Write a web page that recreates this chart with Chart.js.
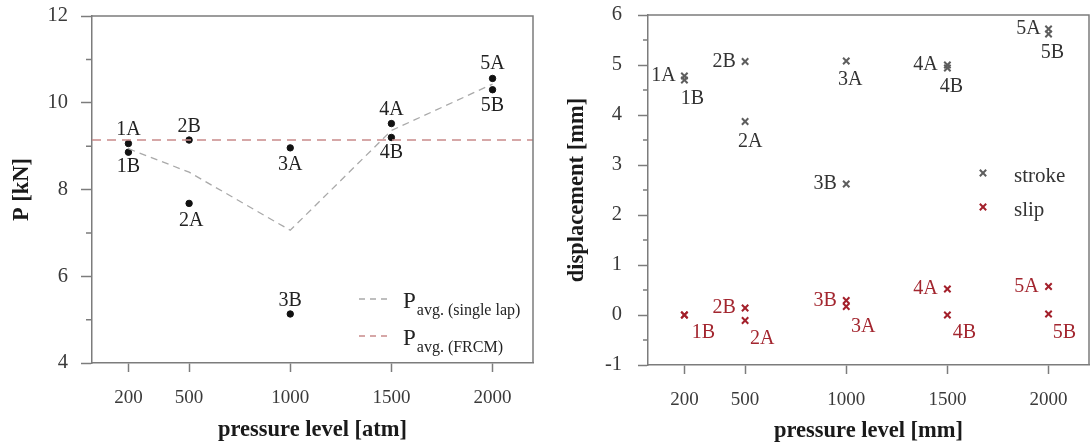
<!DOCTYPE html>
<html>
<head>
<meta charset="utf-8">
<script src="https://cdn.jsdelivr.net/npm/chart.js@4.4.1/dist/chart.umd.min.js"></script>
<style>
  html, body { margin: 0; padding: 0; background: #fff; }
  #wrap { position: relative; width: 1090px; height: 445px; }
  canvas { position: absolute; top: 0; }
</style>
</head>
<body>
<div id="wrap">
  <canvas id="loadChart" width="545" height="445" style="left:0"></canvas>
  <canvas id="dispChart" width="545" height="445" style="left:545px"></canvas>
</div>
<script>
// test series: pressure levels and specimens
const pressureLevels = [200, 500, 1000, 1500, 2000];
const specimensA = ['1A', '2A', '3A', '4A', '5A'];
const specimensB = ['1B', '2B', '3B', '4B', '5B'];

// peak load [kN]
const loadA = [9.06, 7.68, 8.96, 9.52, 10.56];
const loadB = [8.86, 9.14, 5.13, 9.20, 10.30];
const loadAvgSingleLap = [8.94, 8.40, 7.06, 9.36, 10.43];
const loadAvgFRCM = 9.14;

// displacement [mm]
const strokeA = [4.78, 3.87, 5.08, 5.00, 5.72];
const strokeB = [4.70, 5.07, 2.62, 4.94, 5.62];
const slipA = [0.00, -0.11, 0.17, 0.52, 0.57];
const slipB = [0.00, 0.14, 0.29, 0.00, 0.02];

// axis ranges and ticks
const pressureMin = 20, pressureMax = 2200;
const loadMinorTicks = [5, 7, 9, 11];
const dispMinorTicks = [-0.5, 0.5, 1.5, 2.5, 3.5, 4.5, 5.5];

const SERIF = '"Liberation Serif", "Times New Roman", serif';
const AXIS = '#7c7c7c';

const points = (vals, names) => pressureLevels.map((x, i) => ({ x, y: vals[i], name: names ? names[i] : '' }));

// box around the plot + short minor ticks on the y axis
const frameTicks = {
  id: 'frameTicks',
  afterDraw(chart, args, opts) {
    const { ctx, chartArea: a, scales: { y } } = chart;
    ctx.save();
    ctx.strokeStyle = AXIS;
    ctx.lineWidth = 1.5;
    ctx.beginPath();
    ctx.moveTo(a.left, a.top); ctx.lineTo(a.right, a.top); ctx.lineTo(a.right, a.bottom);
    opts.minor.forEach(v => {
      const py = y.getPixelForValue(v);
      ctx.moveTo(a.left - opts.len, py);
      ctx.lineTo(a.left, py);
    });
    ctx.stroke();
    ctx.restore();
  }
};

// specimen names next to each point
const pointTags = {
  id: 'pointTags',
  afterDatasetsDraw(chart) {
    const { ctx } = chart;
    ctx.save();
    ctx.font = '20px ' + SERIF;
    ctx.textAlign = 'center';
    ctx.textBaseline = 'middle';
    chart.data.datasets.forEach((ds, di) => {
      if (!ds.tagOffsets) return;
      ctx.fillStyle = ds.tagColor;
      chart.getDatasetMeta(di).data.forEach((pt, i) => {
        const name = ds.data[i].name;
        const off = ds.tagOffsets[name];
        if (!off) return;
        ctx.fillText(name, pt.x + off[0], pt.y + off[1]);
      });
    });
    ctx.restore();
  }
};

// legend with subscripted P
const avgLegend = {
  id: 'avgLegend',
  afterDraw(chart, args, opts) {
    const { ctx, chartArea: a } = chart;
    ctx.save();
    opts.items.forEach((it, i) => {
      const base = a.bottom - 55 + i * 37;
      ctx.strokeStyle = it.color;
      ctx.lineWidth = 1.3;
      ctx.setLineDash([6, 5]);
      ctx.beginPath();
      ctx.moveTo(a.right - 174, base - 9);
      ctx.lineTo(a.right - 145, base - 9);
      ctx.stroke();
      ctx.setLineDash([]);
      ctx.fillStyle = '#222';
      ctx.textAlign = 'left';
      ctx.textBaseline = 'alphabetic';
      ctx.font = '23px ' + SERIF;
      ctx.fillText('P', a.right - 130, base);
      const w = ctx.measureText('P').width;
      ctx.font = '16px ' + SERIF;
      ctx.fillText(it.sub, a.right - 130 + w + 1, base + 7);
    });
    ctx.restore();
  }
};

const markLegend = {
  id: 'markLegend',
  afterDraw(chart, args, opts) {
    const { ctx, chartArea: a } = chart;
    ctx.save();
    opts.items.forEach((it, i) => {
      const y = a.top + 158 + i * 34;
      ctx.strokeStyle = it.color;
      ctx.lineWidth = 2;
      Chart.helpers.drawPoint(ctx, { pointStyle: 'crossRot', radius: 4.5, borderWidth: 2 }, a.right - 106, y);
      ctx.fillStyle = '#333';
      ctx.font = '21px ' + SERIF;
      ctx.textAlign = 'left';
      ctx.textBaseline = 'alphabetic';
      ctx.fillText(it.text, a.right - 75, y + 9);
    });
    ctx.restore();
  }
};

function xScale(titleText, titlePad) {
  return {
    type: 'linear',
    min: pressureMin,
    max: pressureMax,
    afterBuildTicks: s => { s.ticks = pressureLevels.map(v => ({ value: v })); },
    afterFit: s => { s.height = titlePad.h; s.paddingLeft = 0; s.paddingRight = 0; },
    grid: { drawOnChartArea: false, tickLength: 9, tickColor: AXIS, tickWidth: 1.5 },
    border: { color: AXIS, width: 1.5 },
    ticks: { padding: 15, color: '#3a3a3a', font: { family: SERIF, size: 19 }, callback: v => String(v) },
    title: { display: true, text: titleText, color: '#1a1a1a', padding: { top: 0, bottom: titlePad.b },
             font: { family: SERIF, size: 22.5, weight: 'bold' } }
  };
}

function yScale(titleText, min, max, step, tl, pad, width, titleTop) {
  return {
    min, max,
    afterFit: s => { s.width = width; s.paddingTop = 0; s.paddingBottom = 0; },
    grid: { drawOnChartArea: false, tickLength: tl, tickColor: AXIS, tickWidth: 1.5 },
    border: { color: AXIS, width: 1.5 },
    ticks: { stepSize: step, padding: pad, color: '#3a3a3a', font: { family: SERIF, size: 20.5 } },
    title: { display: true, text: titleText, color: '#1a1a1a', padding: { top: titleTop, bottom: 0 },
             font: { family: SERIF, size: 22.5, weight: 'bold' } }
  };
}

new Chart(document.getElementById('loadChart'), {
  type: 'scatter',
  data: {
    datasets: [
      {
        data: [{ x: pressureMin, y: loadAvgFRCM }, { x: pressureMax, y: loadAvgFRCM }],
        showLine: true, borderColor: '#c98b8b', borderWidth: 1.6, borderDash: [9, 6], pointRadius: 0
      },
      {
        data: points(loadAvgSingleLap),
        showLine: true, borderColor: '#a9a9a9', borderWidth: 1.3, borderDash: [7, 5], pointRadius: 0
      },
      {
        data: points(loadA, specimensA),
        pointRadius: 3.2, backgroundColor: '#111', borderColor: '#111',
        tagColor: '#222',
        tagOffsets: { '1A': [0, -14], '2A': [2, 17], '3A': [0, 17], '4A': [0, -14], '5A': [0, -15] }
      },
      {
        data: points(loadB, specimensB),
        pointRadius: 3.2, backgroundColor: '#111', borderColor: '#111',
        tagColor: '#222',
        tagOffsets: { '1B': [0, 15], '2B': [0, -13], '3B': [0, -13], '4B': [0, 15], '5B': [0, 16] }
      }
    ]
  },
  options: {
    responsive: false,
    animation: false,
    layout: { autoPadding: false, padding: { left: 0, right: 12, top: 16, bottom: 0 } },
    plugins: {
      legend: { display: false },
      tooltip: { enabled: false },
      frameTicks: { minor: loadMinorTicks, len: 6 },
      avgLegend: { items: [
        { color: '#a9a9a9', sub: 'avg. (single lap)' },
        { color: '#c98b8b', sub: 'avg. (FRCM)' }
      ] }
    },
    scales: {
      x: xScale('pressure level [atm]', { h: 82, b: 1.5 }),
      y: yScale('P [kN]', 4, 12, 2, 11, 13, 92, 8.5)
    }
  },
  plugins: [frameTicks, pointTags, avgLegend]
});

new Chart(document.getElementById('dispChart'), {
  type: 'scatter',
  data: {
    datasets: [
      {
        data: points(strokeA, specimensA),
        pointStyle: 'crossRot', pointRadius: 4.5, borderWidth: 2, borderColor: '#5e5e5e',
        tagColor: '#333',
        tagOffsets: { '1A': [-21, 0], '2A': [5, 20], '3A': [4, 19], '4A': [-22, 0], '5A': [-20, 0] }
      },
      {
        data: points(strokeB, specimensB),
        pointStyle: 'crossRot', pointRadius: 4.5, borderWidth: 2, borderColor: '#5e5e5e',
        tagColor: '#333',
        tagOffsets: { '1B': [8, 19], '2B': [-21, 0], '3B': [-21, 0], '4B': [4, 19], '5B': [4, 19] }
      },
      {
        data: points(slipA, specimensA),
        pointStyle: 'crossRot', pointRadius: 4.5, borderWidth: 2, borderColor: '#a3202b',
        tagColor: '#a3262f',
        tagOffsets: { '2A': [17, 18], '3A': [17, 20], '4A': [-22, 0], '5A': [-22, 0] }
      },
      {
        data: points(slipB, specimensB),
        pointStyle: 'crossRot', pointRadius: 4.5, borderWidth: 2, borderColor: '#a3202b',
        tagColor: '#a3262f',
        tagOffsets: { '1B': [19, 18], '2B': [-21, 0], '3B': [-21, 0], '4B': [17, 18], '5B': [16, 19] }
      }
    ]
  },
  options: {
    responsive: false,
    animation: false,
    layout: { autoPadding: false, padding: { left: 0, right: 1, top: 15, bottom: 0 } },
    plugins: {
      legend: { display: false },
      tooltip: { enabled: false },
      frameTicks: { minor: dispMinorTicks, len: 5 },
      markLegend: { items: [
        { color: '#5e5e5e', text: 'stroke' },
        { color: '#a3202b', text: 'slip' }
      ] }
    },
    scales: {
      x: xScale('pressure level [mm]', { h: 80, b: 0 }),
      y: yScale('displacement [mm]', -1, 6, 1, 10, 16, 103, 18.5)
    }
  },
  plugins: [frameTicks, pointTags, markLegend]
});
</script>
</body>
</html>
